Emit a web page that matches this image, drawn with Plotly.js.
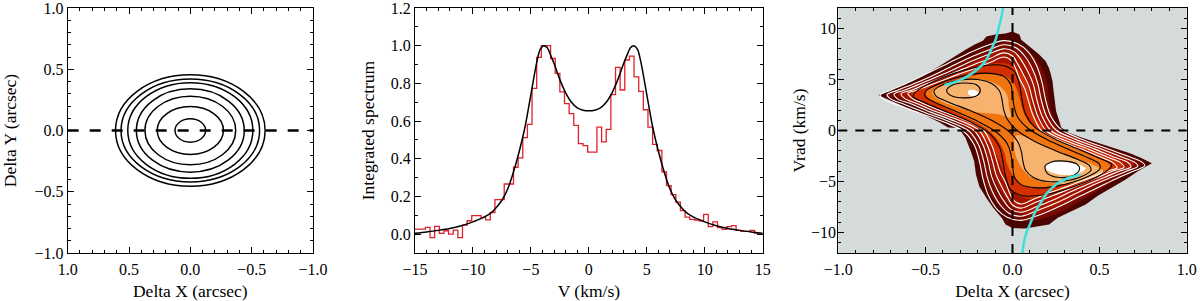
<!DOCTYPE html>
<html>
<head>
<meta charset="utf-8">
<script src="https://cdn.plot.ly/plotly-3.0.1.min.js"></script>
<style>html,body{margin:0;padding:0;background:#fff;}#chart{width:1200px;height:301px;}</style>
</head>
<body>
<div id="chart"></div>
<script>
// ---------- Panel 1: model image contours (semi-axes of each elliptical contour, arcsec)
const ellSemiX = [0.125, 0.27, 0.37, 0.44, 0.51, 0.565, 0.61];
const ellSemiY = [0.095, 0.195, 0.28, 0.34, 0.39, 0.42, 0.455];

// ---------- Panel 2: integrated spectrum
const specV = [-15,-14,-13,-12,-11,-10,-9.5,-9,-8.5,-8,-7.5,-7,-6.5,-6,-5.5,-5,-4.5,-4.2,-3.9,-3.6,-3.3,-3,-2.5,-2,-1.5,-1,-0.5,0,0.5,1,1.5,2,2.5,3,3.3,3.6,3.9,4.2,4.5,5,5.5,6,6.5,7,7.5,8,8.5,9,9.5,10,11,12,13,14,15];
const specModel = [0.005,0.012,0.02,0.03,0.045,0.065,0.078,0.092,0.11,0.14,0.18,0.24,0.33,0.44,0.57,0.74,0.91,0.98,1.0,0.99,0.95,0.905,0.82,0.75,0.70,0.67,0.658,0.655,0.658,0.67,0.70,0.75,0.82,0.905,0.95,0.99,1.0,0.98,0.91,0.74,0.57,0.44,0.33,0.24,0.18,0.14,0.11,0.092,0.078,0.065,0.045,0.03,0.02,0.012,0.005];
const histV = [-15.1,-14.7,-14.3,-13.9,-13.5,-13.1,-12.7,-12.3,-11.9,-11.5,-11.1,-10.7,-10.3,-9.9,-9.5,-9.1,-8.7,-8.3,-7.9,-7.5,-7.1,-6.7,-6.3,-5.9,-5.5,-5.1,-4.7,-4.3,-3.9,-3.5,-3.1,-2.7,-2.3,-1.9,-1.5,-1.1,-0.7,-0.3,0.1,0.5,0.9,1.3,1.7,2.1,2.5,2.9,3.3,3.7,4.1,4.5,4.9,5.3,5.7,6.1,6.5,6.9,7.3,7.7,8.1,8.5,8.9,9.3,9.7,10.1,10.5,10.9,11.3,11.7,12.1,12.5,12.9,13.3,13.7,14.1,14.5,14.9,15.3];
const histObs = [0.027,0.027,0.027,0.036,-0.018,0.041,0.004,0.018,0.0,0.021,-0.018,0.048,0.071,0.098,0.098,0.089,0.076,0.115,0.183,0.183,0.266,0.266,0.355,0.405,0.512,0.583,0.773,0.938,1.0,1.0,0.932,0.853,0.755,0.693,0.64,0.577,0.48,0.47,0.435,0.435,0.568,0.49,0.556,0.74,0.885,0.765,0.924,0.945,0.835,0.758,0.66,0.568,0.476,0.444,0.33,0.258,0.21,0.17,0.125,0.09,0.078,0.075,0.07,0.105,0.04,0.065,0.035,0.025,0.04,0.045,0.02,0.015,0.015,0.02,0.005,0.0,0.0];

// ---------- Panel 3: position-velocity diagram (filled levels, outer -> inner)
const pvL1x = [-0.77,-0.72,-0.69,-0.64,-0.60,-0.55,-0.50,-0.43,-0.35,-0.30,-0.27,-0.22,-0.17,-0.15,-0.10,-0.04,0.0,0.04,0.05,0.08,0.11,0.15,0.19,0.21,0.22,0.23,0.235,0.24,0.25,0.28,0.32,0.40,0.49,0.59,0.67,0.74,0.80,0.76,0.72,0.65,0.57,0.49,0.42,0.34,0.26,0.21,0.15,0.07,0.0,-0.04,-0.06,-0.11,-0.15,-0.19,-0.21,-0.22,-0.24,-0.27,-0.31,-0.37,-0.42,-0.51,-0.61,-0.70,-0.77];
const pvL1v = [3.45,3.8,4.0,4.4,4.7,5.1,5.5,6.2,7.1,7.6,7.9,8.4,8.8,9.2,9.4,9.5,9.7,9.4,8.9,8.5,8.1,7.5,6.8,6.1,5.5,4.8,4.0,3.2,1.9,0.3,-0.2,-0.7,-1.2,-1.7,-2.2,-2.7,-3.2,-3.6,-4.0,-4.8,-5.6,-6.4,-7.25,-7.9,-8.55,-9.2,-9.4,-9.6,-9.55,-9.2,-8.6,-7.6,-6.6,-5.5,-4.3,-3.0,-2.0,-0.7,0.25,0.3,0.8,1.55,2.25,2.95,3.45];
const pvL2x = [-0.72,-0.62,-0.50,-0.40,-0.30,-0.20,-0.10,-0.02,0.05,0.12,0.17,0.20,0.21,0.23,0.27,0.36,0.48,0.60,0.70,0.75,0.68,0.60,0.50,0.40,0.30,0.20,0.10,0.03,-0.04,-0.10,-0.15,-0.18,-0.20,-0.23,-0.27,-0.35,-0.47,-0.60,-0.68,-0.72];
const pvL2v = [3.45,4.2,5.0,5.9,6.8,7.7,8.4,8.7,8.3,7.3,6.1,4.5,3.0,1.6,0.1,-0.6,-1.3,-2.0,-2.7,-3.25,-3.9,-4.8,-5.8,-6.8,-7.8,-8.5,-8.9,-8.8,-8.0,-6.9,-5.5,-4.0,-2.6,-1.2,-0.1,0.9,1.9,2.7,3.15,3.45];
const pvL3x = [-0.66,-0.57,-0.46,-0.35,-0.25,-0.15,-0.07,0.0,0.07,0.12,0.15,0.17,0.19,0.24,0.33,0.45,0.57,0.66,0.70,0.62,0.52,0.42,0.32,0.22,0.12,0.05,-0.01,-0.06,-0.10,-0.13,-0.16,-0.20,-0.28,-0.40,-0.53,-0.62,-0.66];
const pvL3v = [3.5,4.2,4.9,5.6,6.5,7.3,7.8,7.7,7.0,6.0,4.6,3.0,1.6,0.3,-0.5,-1.3,-2.1,-2.8,-3.3,-4.0,-4.9,-5.9,-6.9,-7.7,-8.2,-8.1,-7.3,-6.2,-4.8,-3.3,-1.8,-0.5,0.6,1.7,2.5,3.1,3.5];
const pvL4x = [-0.58,-0.50,-0.40,-0.30,-0.20,-0.10,-0.02,0.04,0.08,0.10,0.12,0.17,0.28,0.40,0.52,0.61,0.63,0.55,0.45,0.35,0.22,0.12,0.04,-0.02,-0.05,-0.08,-0.12,-0.18,-0.28,-0.40,-0.50,-0.56,-0.58];
const pvL4v = [3.6,4.3,4.9,5.5,6.2,6.6,6.5,5.8,4.6,3.2,1.8,0.5,-0.6,-1.5,-2.3,-3.0,-3.5,-4.2,-4.9,-5.6,-6.3,-6.7,-6.4,-5.5,-4.2,-2.8,-1.5,-0.4,0.8,1.9,2.7,3.2,3.6];
const pvL5x = [-0.50,-0.43,-0.33,-0.22,-0.12,-0.04,0.01,0.04,0.06,0.10,0.18,0.30,0.42,0.52,0.56,0.50,0.40,0.28,0.15,0.06,0.01,-0.03,-0.05,-0.09,-0.16,-0.27,-0.38,-0.46,-0.50];
const pvL5v = [3.7,4.4,4.95,5.4,5.6,5.3,4.5,3.2,1.9,0.7,-0.3,-1.2,-2.1,-2.9,-3.5,-4.2,-4.8,-5.3,-5.6,-5.4,-4.6,-3.3,-2.0,-0.8,0.3,1.3,2.2,2.9,3.7];
const pvL6ax = [-0.46,-0.40,-0.30,-0.18,-0.08,-0.03,-0.02,-0.01,-0.08,-0.20,-0.32,-0.42,-0.46];
const pvL6av = [3.7,4.5,5.0,5.0,4.4,3.4,2.2,1.3,1.6,1.8,2.3,3.0,3.7];
const pvL6bx = [0.02,0.10,0.22,0.35,0.47,0.52,0.45,0.33,0.20,0.10,0.04,0.01,0.02];
const pvL6bv = [-0.5,-0.8,-1.8,-2.7,-3.4,-4.0,-4.7,-5.2,-5.1,-4.5,-3.3,-1.8,-0.5];
const pvL7ax = [-0.25,-0.21,-0.19,-0.20,-0.23,-0.255,-0.25];
const pvL7av = [3.95,3.9,3.6,3.3,3.35,3.6,3.95];
const pvL7bx = [0.20,0.28,0.36,0.42,0.38,0.28,0.21,0.19,0.20];
const pvL7bv = [-3.2,-3.05,-3.25,-3.7,-4.2,-4.35,-4.0,-3.6,-3.2];

// model contours (white outer, black inner)
const pvW1x = [-0.76,-0.70,-0.61,-0.50,-0.38,-0.26,-0.15,-0.05,0.03,0.09,0.14,0.17,0.19,0.22,0.28,0.39,0.53,0.66,0.74,0.76,0.70,0.61,0.50,0.38,0.26,0.15,0.05,-0.03,-0.09,-0.14,-0.17,-0.19,-0.22,-0.28,-0.39,-0.53,-0.66,-0.74,-0.76];
const pvW1v = [3.45,3.95,4.6,5.5,6.5,7.5,8.3,8.8,8.5,7.7,6.3,4.7,3.0,1.4,0.1,-0.8,-1.7,-2.5,-3.05,-3.45,-3.95,-4.6,-5.5,-6.5,-7.5,-8.3,-8.8,-8.5,-7.7,-6.3,-4.7,-3.0,-1.4,-0.1,0.8,1.7,2.5,3.05,3.45];
const pvW2x = [-0.72,-0.66,-0.57,-0.47,-0.36,-0.25,-0.14,-0.05,0.02,0.07,0.115,0.145,0.165,0.195,0.25,0.36,0.50,0.62,0.70,0.72,0.66,0.57,0.47,0.36,0.25,0.14,0.05,-0.02,-0.07,-0.115,-0.145,-0.165,-0.195,-0.25,-0.36,-0.50,-0.62,-0.70,-0.72];
const pvW2v = [3.5,3.95,4.55,5.3,6.2,7.1,7.85,8.4,8.1,7.3,6.0,4.6,3.0,1.4,0.05,-0.85,-1.75,-2.55,-3.1,-3.5,-3.95,-4.55,-5.3,-6.2,-7.1,-7.85,-8.4,-8.1,-7.3,-6.0,-4.6,-3.0,-1.4,-0.05,0.85,1.75,2.55,3.1,3.5];
const pvW3x = [-0.68,-0.62,-0.54,-0.45,-0.34,-0.24,-0.14,-0.05,0.01,0.05,0.09,0.12,0.14,0.17,0.22,0.33,0.47,0.58,0.66,0.68,0.62,0.54,0.45,0.34,0.24,0.14,0.05,-0.01,-0.05,-0.09,-0.12,-0.14,-0.17,-0.22,-0.33,-0.47,-0.58,-0.66,-0.68];
const pvW3v = [3.55,3.95,4.5,5.15,5.95,6.75,7.45,8.0,7.7,6.9,5.7,4.5,3.0,1.4,0.0,-0.9,-1.8,-2.6,-3.1,-3.55,-3.95,-4.5,-5.15,-5.95,-6.75,-7.45,-8.0,-7.7,-6.9,-5.7,-4.5,-3.0,-1.4,0.0,0.9,1.8,2.6,3.1,3.55];
const pvW4x = [-0.64,-0.58,-0.51,-0.43,-0.33,-0.23,-0.13,-0.05,0.0,0.03,0.065,0.095,0.115,0.145,0.195,0.30,0.44,0.55,0.62,0.64,0.58,0.51,0.43,0.33,0.23,0.13,0.05,0.0,-0.03,-0.065,-0.095,-0.115,-0.145,-0.195,-0.30,-0.44,-0.55,-0.62,-0.64];
const pvW4v = [3.6,3.95,4.45,5.0,5.7,6.4,7.05,7.6,7.3,6.5,5.4,4.3,3.0,1.4,-0.05,-0.95,-1.85,-2.65,-3.15,-3.6,-3.95,-4.45,-5.0,-5.7,-6.4,-7.05,-7.6,-7.3,-6.5,-5.4,-4.3,-3.0,-1.4,0.05,0.95,1.85,2.65,3.15,3.6];
const pvW5x = [-0.60,-0.55,-0.48,-0.41,-0.32,-0.22,-0.13,-0.05,-0.01,0.015,0.04,0.07,0.09,0.12,0.17,0.27,0.41,0.52,0.58,0.60,0.55,0.48,0.41,0.32,0.22,0.13,0.05,0.01,-0.015,-0.04,-0.07,-0.09,-0.12,-0.17,-0.27,-0.41,-0.52,-0.58,-0.60];
const pvW5v = [3.65,3.95,4.4,4.85,5.45,6.05,6.65,7.2,6.9,6.2,5.1,4.1,3.0,1.4,-0.1,-1.0,-1.9,-2.7,-3.2,-3.65,-3.95,-4.4,-4.85,-5.45,-6.05,-6.65,-7.2,-6.9,-6.2,-5.1,-4.1,-3.0,-1.4,0.1,1.0,1.9,2.7,3.2,3.65];
const pvB1x = [-0.56,-0.50,-0.40,-0.28,-0.16,-0.06,0.01,0.04,0.055,0.075,0.13,0.25,0.39,0.51,0.57,0.56,0.50,0.40,0.28,0.16,0.06,-0.01,-0.04,-0.055,-0.075,-0.13,-0.25,-0.39,-0.51,-0.57,-0.56];
const pvB1v = [3.7,4.4,5.2,5.9,6.35,6.4,5.8,4.5,3.0,1.6,0.3,-0.9,-1.9,-2.8,-3.3,-3.7,-4.4,-5.2,-5.9,-6.35,-6.4,-5.8,-4.5,-3.0,-1.6,-0.3,0.9,1.9,2.8,3.3,3.7];
const pvB2x = [-0.50,-0.44,-0.35,-0.24,-0.13,-0.05,-0.01,0.0,0.01,0.03,0.09,0.20,0.33,0.45,0.50,0.50,0.44,0.35,0.24,0.13,0.05,0.01,0.0,-0.01,-0.03,-0.09,-0.20,-0.33,-0.45,-0.50,-0.50];
const pvB2v = [3.8,4.45,5.05,5.5,5.6,5.3,4.5,3.4,2.3,1.3,0.2,-0.9,-1.9,-2.8,-3.3,-3.8,-4.45,-5.05,-5.5,-5.6,-5.3,-4.5,-3.4,-2.3,-1.3,-0.2,0.9,1.9,2.8,3.3,3.8];
const pvB3x = [-0.45,-0.39,-0.30,-0.20,-0.12,-0.075,-0.06,-0.05,-0.03,0.02,0.12,0.25,0.37,0.44,0.45,0.39,0.30,0.20,0.12,0.075,0.06,0.05,0.03,-0.02,-0.12,-0.25,-0.37,-0.44,-0.45];
const pvB3v = [3.9,4.55,4.95,5.0,4.6,3.9,3.0,2.0,1.1,0.1,-1.0,-2.0,-2.8,-3.4,-3.9,-4.55,-4.95,-5.0,-4.6,-3.9,-3.0,-2.0,-1.1,-0.1,1.0,2.0,2.8,3.4,3.9];
const pvB4ax = [-0.378,-0.35,-0.28,-0.21,-0.185,-0.20,-0.27,-0.35,-0.378];
const pvB4av = [3.9,4.4,4.65,4.5,4.0,3.45,3.2,3.4,3.9];
const pvB4bx = [0.187,0.22,0.30,0.37,0.385,0.35,0.27,0.20,0.187];
const pvB4bv = [-3.5,-3.1,-3.0,-3.3,-3.8,-4.4,-4.6,-4.2,-3.5];
// rotation-curve model (cyan)
const rotUx = [-0.05,-0.065,-0.08,-0.095,-0.12,-0.155,-0.20,-0.25,-0.30,-0.35,-0.39];
const rotUv = [12.5,11,10,9,8,6.8,6.0,5.4,4.95,4.65,4.45];
const rotLx = [0.055,0.065,0.08,0.10,0.13,0.165,0.20,0.25,0.30,0.35,0.39];
const rotLv = [-12.5,-11,-10,-9.2,-8,-7,-6.1,-5.3,-4.8,-4.5,-4.3];

const FONT = 'Liberation Serif, Times New Roman, serif';
const traces = [];

// panel 2
traces.push({x: histV, y: histObs, xaxis:'x2', yaxis:'y2', mode:'lines', line:{shape:'hvh', color:'#e0202a', width:1.3}, hoverinfo:'skip'});
traces.push({x: specV, y: specModel, xaxis:'x2', yaxis:'y2', mode:'lines', line:{shape:'spline', smoothing:0.8, color:'black', width:1.5}, hoverinfo:'skip'});

// panel 3 fills
const fills = [
  [pvL1x, pvL1v, '#4a0500', 'linear'],
  [pvL2x, pvL2v, '#760a00', 'spline'],
  [pvL3x, pvL3v, '#a51400', 'spline'],
  [pvL4x, pvL4v, '#d23000', 'spline'],
  [pvL5x, pvL5v, '#f07510', 'spline'],
  [pvL6ax, pvL6av, '#f7b36e', 'spline'],
  [pvL6bx, pvL6bv, '#f7b36e', 'spline'],
  [pvL7ax, pvL7av, '#ffffff', 'spline'],
  [pvL7bx, pvL7bv, '#ffffff', 'spline']
];
fills.forEach(f => traces.push({x:f[0], y:f[1], xaxis:'x3', yaxis:'y3', mode:'lines', fill:'toself', fillcolor:f[2], line:{width:0, color:f[2], shape:f[3]}, hoverinfo:'skip'}));
const lines = [
  [pvW1x, pvW1v, 'white'], [pvW2x, pvW2v, 'white'], [pvW3x, pvW3v, 'white'], [pvW4x, pvW4v, 'white'], [pvW5x, pvW5v, 'white'],
  [pvB1x, pvB1v, 'black'], [pvB2x, pvB2v, 'black'], [pvB3x, pvB3v, 'black'], [pvB4ax, pvB4av, 'black'], [pvB4bx, pvB4bv, 'black']
];
lines.forEach(l => traces.push({x:l[0], y:l[1], xaxis:'x3', yaxis:'y3', mode:'lines', line:{color:l[2], width:1.1, shape:'spline', smoothing:1}, hoverinfo:'skip'}));
traces.push({x: rotUx, y: rotUv, xaxis:'x3', yaxis:'y3', mode:'lines', line:{color:'#3fe0da', width:2.5, shape:'spline'}, hoverinfo:'skip'});
traces.push({x: rotLx, y: rotLv, xaxis:'x3', yaxis:'y3', mode:'lines', line:{color:'#3fe0da', width:2.5, shape:'spline'}, hoverinfo:'skip'});

// panel 1 needs a trace to exist
traces.push({x:[0], y:[0], xaxis:'x', yaxis:'y', mode:'markers', marker:{opacity:0}, hoverinfo:'skip'});

const shapes = [];
shapes.push({type:'rect', xref:'x3 domain', yref:'y3 domain', x0:0, x1:1, y0:0, y1:1, fillcolor:'#d5dbdb', line:{width:0}, layer:'below'});
for (let i = 0; i < ellSemiX.length; i++) {
  shapes.push({type:'circle', xref:'x', yref:'y', x0:-ellSemiX[i], x1:ellSemiX[i], y0:-ellSemiY[i], y1:ellSemiY[i], line:{color:'black', width:1.5}});
}
shapes.push({type:'line', xref:'x', yref:'y', x0:1, x1:-1, y0:0, y1:0, line:{color:'black', width:2.5, dash:'11px,11px'}});
shapes.push({type:'line', xref:'x3', yref:'y3', x0:-1, x1:1, y0:0, y1:0, line:{color:'black', width:2, dash:'9px,8px'}, layer:'above'});
shapes.push({type:'line', xref:'x3', yref:'y3', x0:0, x1:0, y0:-12, y1:12, line:{color:'black', width:2, dash:'9px,8px'}, layer:'above'});

function ax(extra) {
  return Object.assign({
    showline:true, linecolor:'black', linewidth:1, mirror:'allticks',
    ticks:'inside', ticklen:6, tickwidth:1, tickcolor:'black',
    showgrid:false, zeroline:false, fixedrange:true, ticklabeloverflow:'allow',
    tickfont:{family:FONT, size:16, color:'black'}
  }, extra);
}
function mn(d) { return {ticks:'inside', ticklen:3, tickwidth:1, tickcolor:'black', showgrid:false, dtick:d}; }
const titleFont = {family:FONT, size:17.5, color:'black'};
const layout = {
  width:1200, height:301,
  margin:{l:0, r:0, t:8, b:48, pad:0},
  paper_bgcolor:'white', plot_bgcolor:'rgba(0,0,0,0)',
  showlegend:false,
  font:{family:FONT, size:16, color:'black'},
  xaxis: ax({domain:[0.0564,0.2608], range:[1,-1], dtick:0.5, tick0:0, tickformat:'.1f', ticklabelstandoff:2, minor:mn(0.1), anchor:'y', title:{text:'Delta X (arcsec)', font:titleFont, standoff:7}}),
  yaxis: ax({domain:[0,1], range:[-1,1], dtick:0.5, tick0:0, tickformat:'.1f', minor:mn(0.1), anchor:'x', title:{text:'Delta Y (arcsec)', font:titleFont, standoff:18}}),
  xaxis2: ax({domain:[0.3458,0.6356], range:[-15,15], dtick:5, tick0:0, ticklabelstandoff:2, minor:mn(1), anchor:'y2', title:{text:'V (km/s)', font:titleFont, standoff:7}}),
  yaxis2: ax({domain:[0,1], range:[-0.1,1.2], dtick:0.2, tick0:0, tickformat:'.1f', minor:mn(0.1), anchor:'x2', title:{text:'Integrated spectrum', font:titleFont, standoff:11}}),
  xaxis3: ax({domain:[0.6986,0.9889], range:[-1,1], dtick:0.5, tick0:0, tickformat:'.1f', ticklabelstandoff:2, minor:mn(0.1), anchor:'y3', title:{text:'Delta X (arcsec)', font:titleFont, standoff:7}}),
  yaxis3: ax({domain:[0,1], range:[-12,12], dtick:5, tick0:0, ticklabelstandoff:-2, minor:mn(1), anchor:'x3', title:{text:'Vrad (km/s)', font:titleFont, standoff:0}}),
  shapes: shapes
};
Plotly.newPlot('chart', traces, layout, {staticPlot:true, displayModeBar:false});
</script>
</body>
</html>
